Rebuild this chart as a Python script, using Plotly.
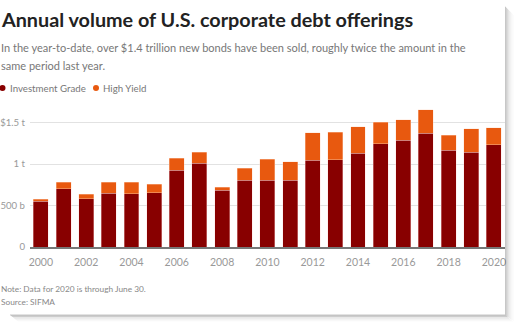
import plotly.graph_objects as go

years = list(range(2000, 2021))
investment_grade = [550, 700, 580, 650, 645, 657, 923, 1008, 682, 803, 803, 806, 1045, 1052, 1128, 1242, 1290, 1371, 1169, 1145, 1233]
high_yield = [28, 78, 57, 132, 137, 100, 146, 137, 36, 145, 257, 222, 333, 331, 319, 262, 242, 282, 178, 282, 202]
tick_vals = [0, 500, 1000, 1500]
tick_text = ["0", "500 b", "1 t", "$1.5 t"]
x_ticks = list(range(2000, 2021, 2))

W, H = 520, 332
L, R = 30, 505
Y0, YTOP = 246.7, 106.0
PW, PH = R - L, Y0 - YTOP

def px(x):
    return (x - L) / PW

def py(y):
    return (Y0 - y) / PH

FONT = "Lato"
IG_C = "#880000"
HY_C = "#e8590f"

fig = go.Figure()
fig.add_bar(x=years, y=investment_grade, name="Investment Grade", marker_color=IG_C,
            marker_line=dict(color="rgba(255,220,220,0.6)", width=0.6), showlegend=False)
fig.add_bar(x=years, y=high_yield, name="High Yield", marker_color=HY_C,
            marker_line=dict(color="rgba(255,220,200,0.6)", width=0.6), showlegend=False)

ann = []
def text(x, y, s, size, color, bold=False):
    ann.append(dict(xref="paper", yref="paper", x=px(x), y=py(y), text=f"<b>{s}</b>" if bold else s,
                    showarrow=False, xanchor="left", yanchor="middle",
                    font=dict(family=FONT, size=size, color=color)))

text(-1, 19, "Annual volume of U.S. corporate debt offerings", 19.8, "#222222", bold=True)
text(-1, 48, "In the year-to-date, over $1.4 trillion new bonds have been sold, roughly twice the amount in the", 11.0, "#777777")
text(-1, 66, "same period last year.", 11.0, "#777777")
text(8, 88, "Investment Grade", 9.7, "#777777")
text(101, 88, "High Yield", 9.7, "#777777")
text(-1, 289, "Note: Data for 2020 is through June 30.", 8.3, "#888888")
text(-1, 302, "Source: SIFMA", 8.3, "#888888")

shapes = []
for cx, col in [(2.5, IG_C), (96, HY_C)]:
    r = 3
    shapes.append(dict(type="circle", xref="paper", yref="paper", x0=px(cx - r), x1=px(cx + r),
                       y0=py(88 + r), y1=py(88 - r), fillcolor=col, line_width=0))
# drop shadow of the card
for i, op in enumerate([0.22, 0.18, 0.14, 0.10, 0.07, 0.05, 0.03, 0.02, 0.01]):
    shapes.append(dict(type="rect", xref="paper", yref="paper", x0=px(505 + i), x1=px(506 + i),
                       y0=py(315 + i * 0.7), y1=py(7 + i), fillcolor=f"rgba(0,0,0,{op})", line_width=0))
    shapes.append(dict(type="rect", xref="paper", yref="paper", x0=px(10 + i), x1=px(505 + i),
                       y0=py(315 + i * 0.8), y1=py(314 + i * 0.8), fillcolor=f"rgba(0,0,0,{op})", line_width=0))

fig.update_layout(
    width=W, height=H, barmode="stack", bargap=0.34,
    margin=dict(l=L, r=W - R, t=YTOP, b=H - Y0, pad=0),
    paper_bgcolor="white", plot_bgcolor="white",
    annotations=ann, shapes=shapes,
    xaxis=dict(range=[1999.52, 2020.49], tickvals=x_ticks, ticks="", showgrid=False, automargin=False,
               showline=True, linecolor="#777777", linewidth=1.5, ticklabelstandoff=5,
               tickfont=dict(family=FONT, size=10.5, color="#999999")),
    yaxis=dict(range=[0, 1700], tickvals=tick_vals, ticktext=tick_text, showgrid=True, automargin=False,
               gridcolor="#e2e2e2", gridwidth=1, zeroline=False, ticks="", ticklabelstandoff=4,
               tickfont=dict(family=FONT, size=9.6, color="#999999")),
)
fig.write_html("out.html")
